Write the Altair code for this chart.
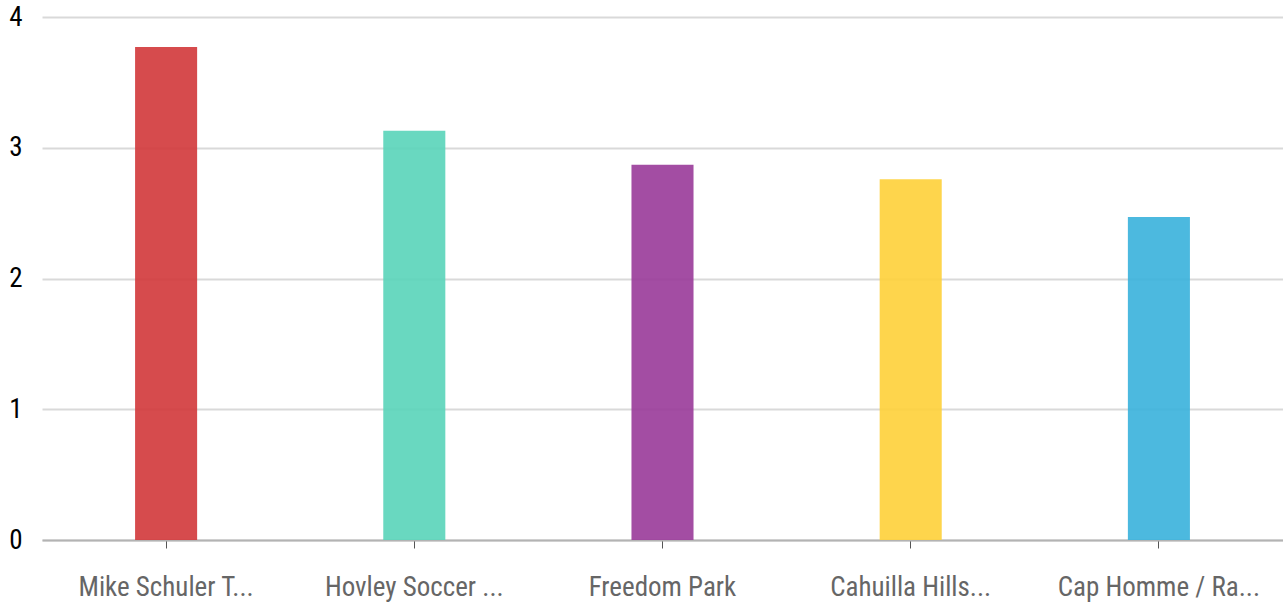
import altair as alt
import pandas as pd

categories = ["Mike Schuler T...", "Hovley Soccer ...", "Freedom Park", "Cahuilla Hills...", "Cap Homme / Ra..."]
values = [3.77, 3.13, 2.87, 2.76, 2.47]
colors = ["#d1373a", "#59d4b9", "#993a99", "#fed038", "#38b1dc"]

df = pd.DataFrame({"name": categories, "value": values, "color": colors})

FONT = "'Roboto Condensed', 'Arial Narrow', 'Liberation Sans', sans-serif"

chart = alt.Chart(df).mark_bar(opacity=0.9).encode(
    x=alt.X("name:N", sort=categories, title=None,
            scale=alt.Scale(paddingInner=0.75, paddingOuter=0.375),
            axis=alt.Axis(labelAngle=0, labelFont=FONT, labelFontSize=27, labelColor="#666666",
                          domainColor="#b3b3b3", domainWidth=2, tickColor="#555555", tickSize=8,
                          tickWidth=1, labelPadding=26, labelLimit=400)),
    y=alt.Y("value:Q", title=None,
            scale=alt.Scale(domain=[0, 4]),
            axis=alt.Axis(values=[0, 1, 2, 3, 4], format="d", labelFont=FONT, labelFontSize=27,
                          labelColor="#000000", domain=False, ticks=False, labelPadding=20,
                          gridColor="#d9d9d9", gridWidth=2)),
    color=alt.Color("color:N", scale=None, legend=None),
).properties(
    width=1241, height=523,
    autosize=alt.AutoSizeParams(type="none"),
    padding={"left": 42, "top": 17, "right": 0, "bottom": 64},
).configure_view(stroke=None)

chart.save("out.html", embed_options={"renderer": "svg", "actions": False})
